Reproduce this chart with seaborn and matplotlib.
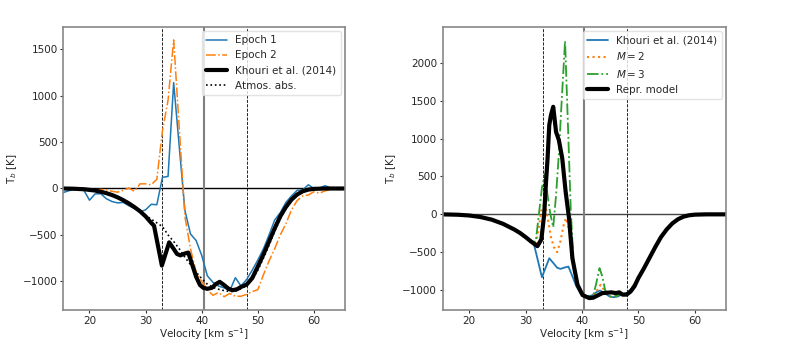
import numpy as np
import pandas as pd
import matplotlib
matplotlib.use("Agg")
import matplotlib.pyplot as plt
import seaborn as sns

# Observed spectra, 1 km/s channels
epoch_v = np.arange(15, 66, 1.0)
epoch1_tb = [-50, -30, -12, -12, -20, -126, -58, -56, -110, -140,
             -155, -150, -185, -215, -250, -230, -170, -175, 120, 130,
             1140, 450, -235, -490, -560, -720, -940, -1010, -1050, -1070,
             -1100, -960, -1050, -980, -880, -770, -650, -500, -340, -260,
             -150, -80, -20, -15, 40, 0, 5, 30, 5, 5,
             5]
epoch2_tb = [0, -5, -5, -10, -10, -10, -15, -10, -15, -30,
             -40, -20, 5, -30, 50, 50, 40, 100, 620, 950,
             1600, 650, -300, -650, -900, -1000, -1090, -1150, -1120, -1165,
             -1130, -1160, -1160, -1140, -1110, -1090, -930, -780, -650, -500,
             -380, -230, -130, -80, -70, -35, -50, -25, -10, -10,
             -10]

# Khouri et al. (2014) model
khouri_v = [15.3, 17, 19, 21, 22, 23, 24, 25, 26, 27,
            28, 29, 30, 31, 31.5, 32.9, 34.2, 35.0, 35.6, 36.2,
            37.0, 37.6, 38.2, 39.0, 39.7, 40.3, 41.0, 41.8, 42.5, 43.2,
            44.0, 44.8, 45.5, 46.3, 47.0, 48, 49, 50, 51, 52,
            53, 54, 55, 56, 57, 58, 59, 60, 62, 65.5]
khouri_tb = [0, -2, -8, -22, -35, -50, -70, -95, -125, -160,
             -200, -245, -300, -370, -400, -830, -580, -650, -705, -720,
             -700, -690, -800, -950, -1040, -1070, -1080, -1070, -1030, -1005,
             -1040, -1080, -1095, -1085, -1060, -1035, -965, -840, -710, -570,
             -430, -300, -200, -120, -65, -30, -12, -4, 0, 0]

# atmospheric absorption
atmos_v = [15.3, 18, 20, 22, 24, 26, 28, 30, 31, 32,
           33, 34, 35, 36, 37, 38, 39, 40, 41, 42,
           43, 44, 45, 46, 47, 48, 49, 50, 51, 52,
           53, 54, 55, 56, 57, 58, 59, 60, 62, 65.5]
atmos_tb = [0, -5, -12, -30, -65, -120, -200, -290, -330, -370,
            -410, -500, -570, -650, -740, -820, -900, -970, -1030, -1065,
            -1085, -1100, -1110, -1105, -1080, -1045, -980, -880, -750, -610,
            -460, -330, -215, -125, -65, -28, -10, -3, 0, 0]

# representative model (right panel)
repr_v = [15.2, 18, 20, 22, 24, 26, 28, 29, 30, 31,
          32.1, 32.8, 33.3, 33.6, 33.9, 34.2, 34.5, 34.9, 35.4, 35.9,
          36.5, 37.1, 37.7, 38.3, 39.2, 40.1, 41.3, 42.0, 42.8, 43.6,
          44.4, 45.2, 46.0, 46.6, 47.2, 47.9, 48.6, 49.3, 50, 51,
          52, 53, 54, 55, 56, 57, 58, 59, 60, 62, 65.5]
repr_tb = [0, -5, -15, -35, -70, -125, -200, -245, -300, -360,
           -420, -330, 0, 400, 740, 1180, 1310, 1420, 1090, 980,
           740, 300, -50, -580, -930, -1066, -1106, -1100, -1070, -1040,
           -1035, -1030, -1040, -1030, -1060, -1060, -1020, -950, -840, -710,
           -570, -430, -300, -200, -120, -65, -30, -12, -4, 0, 0]

m2_v = [30, 31, 31.8, 32.3, 32.8, 33.2, 33.6, 34.0, 34.5, 35.0,
        35.6, 36.2, 36.8, 37.2, 37.7, 38.3, 39.0, 39.8, 40.5, 41.3,
        42.0, 42.7, 43.3, 43.9, 44.5, 45.2, 46.0, 46.8, 47.5, 48.2,
        49.0, 50]
m2_tb = [-300, -360, -380, -200, 50, 120, 80, -80, -300, -430,
         -500, -350, -120, -50, -200, -600, -900, -1040, -1080, -1090,
         -1070, -1000, -930, -1000, -1070, -1090, -1080, -1050, -1050, -1050,
         -950, -850]

m3_v = [30, 31, 31.8, 32.4, 32.9, 33.4, 33.9, 34.4, 34.9, 35.4,
        35.9, 36.4, 37.0, 37.5, 38.0, 38.5, 39.2, 39.9, 40.6, 41.4,
        42.0, 42.5, 43.1, 43.6, 44.1, 44.7, 45.3, 46.0, 46.8, 47.5,
        48.2, 49.0, 50]
m3_tb = [-300, -360, -360, 30, 350, 530, 250, 0, -170, 250,
         800, 1500, 2290, 1200, 80, -650, -960, -1050, -1080, -1090,
         -1070, -920, -710, -820, -1000, -1080, -1090, -1080, -1050, -1050,
         -1050, -950, -850]

v_lines_dashed = [33, 48]
v_line_center = 40.4

sns.set_style("ticks")
plt.rcParams['font.family'] = ['DejaVu Sans']
plt.rcParams['font.size'] = 7.5
plt.rcParams['axes.edgecolor'] = '#888888'
plt.rcParams['axes.linewidth'] = 1.2

blue, orange, green = sns.color_palette("tab10")[:3]

fig = plt.figure(figsize=(7.89, 3.45), dpi=100)
ax1 = fig.add_axes([0.080, 0.101, 0.357, 0.821])
ax2 = fig.add_axes([0.561, 0.101, 0.359, 0.821])

# Left panel: observations
sns.lineplot(x=epoch_v, y=epoch1_tb, ax=ax1, color=blue, lw=1.1,
             estimator=None, sort=False, label='Epoch 1')
sns.lineplot(x=epoch_v, y=epoch2_tb, ax=ax1, color=orange, lw=1.1,
             linestyle='-.', estimator=None, sort=False, label='Epoch 2')
sns.lineplot(x=khouri_v, y=khouri_tb, ax=ax1, color='k', lw=3,
             estimator=None, sort=False, label='Khouri et al. (2014)')
sns.lineplot(x=atmos_v, y=atmos_tb, ax=ax1, color='k', lw=1.2,
             linestyle=':', estimator=None, sort=False, label='Atmos. abs.')

# Right panel: models
sns.lineplot(x=khouri_v, y=khouri_tb, ax=ax2, color=blue, lw=1.3,
             estimator=None, sort=False, label='Khouri et al. (2014)')
sns.lineplot(x=m2_v, y=m2_tb, ax=ax2, color=orange, lw=1.5,
             linestyle=':', estimator=None, sort=False, label='$M = 2$')
sns.lineplot(x=m3_v, y=m3_tb, ax=ax2, color=green, lw=1.3,
             linestyle='-.', estimator=None, sort=False, label='$M = 3$')
sns.lineplot(x=repr_v, y=repr_tb, ax=ax2, color='k', lw=3,
             estimator=None, sort=False, label='Repr. model')

for ax, zc in [(ax1, 'k'), (ax2, '#444444')]:
    ax.axhline(0, color=zc, lw=1.0, zorder=1)
    for xv in v_lines_dashed:
        ax.axvline(xv, color='k', lw=0.6, ls='--', zorder=1)
    ax.axvline(v_line_center, color='gray', lw=1.5, zorder=1)
    ax.set_xlim(15.3, 65.5)
    ax.set_xlabel('Velocity [km s$^{-1}$]', fontsize=7.5, labelpad=0.5)
    ax.set_ylabel('T$_b$ [K]', fontsize=7.5, labelpad=3)
    ax.tick_params(labelsize=7.5, length=2, width=0.8, pad=2, color='#333333')
    ax.legend(loc='upper right', fontsize=7.5, frameon=True, framealpha=0.8,
              edgecolor='#dddddd', fancybox=True, borderaxespad=0.4)

ax1.set_ylim(-1310, 1740)
ax1.set_yticks([-1000, -500, 0, 500, 1000, 1500])
ax2.set_ylim(-1265, 2475)
ax2.set_yticks([-1000, -500, 0, 500, 1000, 1500, 2000])
for ax in (ax1, ax2):
    ax.set_xticks([20, 30, 40, 50, 60])

fig.savefig('out.png', dpi=100)
